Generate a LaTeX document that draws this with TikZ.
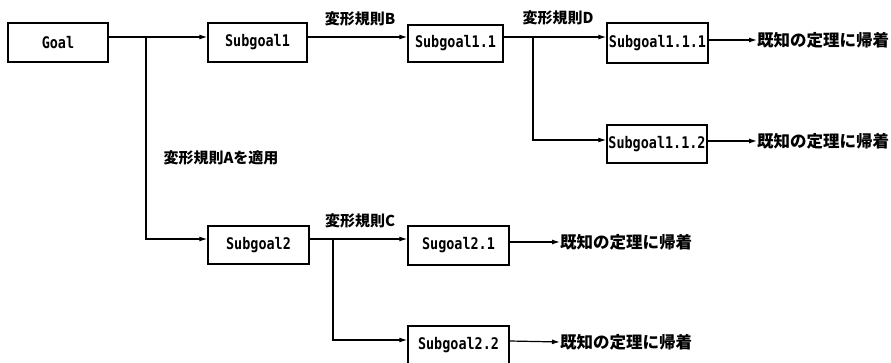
\documentclass[tikz,border=0pt]{standalone}
\usepackage{fontspec}
\newfontfamily\jp{Noto Sans CJK JP}
\newfontfamily\mono{DejaVu Sans Mono}[FakeStretch=0.84]
\usetikzlibrary{arrows.meta}
\tikzset{
  box/.style={draw, line width=1.4pt, rectangle, inner sep=0pt, font=\mono\bfseries\fontsize{16}{17}\selectfont},
  arr/.style={line width=1.2pt, -{Latex[length=8pt,width=5pt]}},
  rulelabel/.style={font=\jp\bfseries\fontsize{15}{16}\selectfont, inner sep=0pt},
  done/.style={font=\jp\bfseries\fontsize{16.5}{17}\selectfont, inner sep=0pt, anchor=west},
}
\begin{document}
\begin{tikzpicture}[x=1pt,y=-1pt]
\fill[white] (0,0) rectangle (891,363);
\useasboundingbox (0,0) rectangle (891,363);
% boxes
\node[box, minimum width=100pt, minimum height=39pt] (g) at (58,42.5) {Goal};
\node[box, minimum width=99pt, minimum height=39pt] (s1) at (257.5,42.5) {Subgoal1};
\node[box, minimum width=95pt, minimum height=37pt] (s11) at (455.5,43.5) {Subgoal1.1};
\node[box, minimum width=101pt, minimum height=40pt] (s111) at (657.5,43) {Subgoal1.1.1};
\node[box, minimum width=100pt, minimum height=38pt] (s112) at (657,144) {Subgoal1.1.2};
\node[box, minimum width=101pt, minimum height=38pt] (s2) at (258.5,245) {Subgoal2};
\node[box, minimum width=101pt, minimum height=39pt] (s21) at (458.5,245.5) {Sugoal2.1};
\node[box, minimum width=101pt, minimum height=38pt] (s22) at (458.5,345) {Subgoal2.2};
% results
\node[done] (d1) at (757,40) {既知の定理に帰着};
\node[done] (d2) at (757,141) {既知の定理に帰着};
\node[done] (d3) at (560,242) {既知の定理に帰着};
\node[done] (d4) at (560,342) {既知の定理に帰着};
% labels
\node[rulelabel] (lb) at (360,19) {変形規則B};
\node[rulelabel] (ld) at (558,18) {変形規則D};
\node[rulelabel] (la) at (221,158) {変形規則Aを適用};
\node[rulelabel] (lc) at (360,221) {変形規則C};
% branch points
\coordinate (ba) at (146,37);
\coordinate (bd) at (533,37);
\coordinate (bc) at (333,239);
% connectors
\draw[arr] ([yshift=5.5pt]g.east) -- ([yshift=5.5pt]s1.west);
\draw[arr] (ba) |- ([yshift=6pt]s2.west);
\draw[arr] ([yshift=5.5pt]s1.east) -- ([yshift=6.5pt]s11.west);
\draw[arr] ([yshift=6.5pt]s11.east) -- ([yshift=6pt]s111.west);
\draw[arr] (bd) |- ([yshift=4pt]s112.west);
\draw[arr] ([yshift=3pt]s111.east) -- (d1.west);
\draw[arr] ([yshift=3pt]s112.east) -- (d2.west);
\draw[arr] ([yshift=6pt]s2.east) -- ([yshift=6.5pt]s21.west);
\draw[arr] (bc) |- ([yshift=5pt]s22.west);
\draw[arr] ([yshift=3.5pt]s21.east) -- (d3.west);
\draw[arr] ([yshift=4pt]s22.east) -- (d4.west);
\end{tikzpicture}
\end{document}
